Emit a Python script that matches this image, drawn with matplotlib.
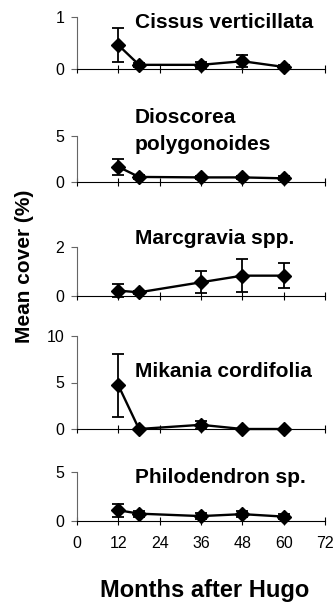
import matplotlib
matplotlib.use('Agg')
import matplotlib.pyplot as plt

plt.rcParams['font.family'] = ['Liberation Sans', 'DejaVu Sans']

# Months after hurricane Hugo
months = [12, 18, 36, 48, 60]

species = ['Cissus verticillata', 'Dioscorea\npolygonoides', 'Marcgravia spp.',
           'Mikania cordifolia', 'Philodendron sp.']

cissus_mean = [0.46, 0.08, 0.08, 0.15, 0.04]
cissus_err = [0.33, 0.04, 0.06, 0.11, 0.03]

dioscorea_mean = [1.65, 0.55, 0.5, 0.5, 0.4]
dioscorea_err = [0.9, 0.25, 0.15, 0.2, 0.2]

marcgravia_mean = [0.22, 0.15, 0.56, 0.83, 0.83]
marcgravia_err = [0.25, 0.06, 0.45, 0.68, 0.52]

mikania_mean = [4.7, 0.0, 0.45, 0.0, 0.0]
mikania_err = [3.4, 0.0, 0.45, 0.0, 0.0]

philodendron_mean = [1.1, 0.75, 0.5, 0.7, 0.45]
philodendron_err = [0.65, 0.3, 0.3, 0.3, 0.25]

means = [cissus_mean, dioscorea_mean, marcgravia_mean, mikania_mean, philodendron_mean]
errs = [cissus_err, dioscorea_err, marcgravia_err, mikania_err, philodendron_err]
ymax = [1, 5, 2, 10, 5]
yticks = [[0, 1], [0, 5], [0, 2], [0, 5, 10], [0, 5]]

# panel placement in pixels (top, bottom) of the 335x604 figure
W, H = 335, 604
panels = [(17, 69), (136, 182), (247, 296), (336, 429), (472, 521)]
title_base = [28, 123, 244, 377, 483]   # baseline of first title line
x0, x1 = 77, 325

fig = plt.figure(figsize=(W / 100, H / 100), dpi=100)

for i in range(5):
    top, bot = panels[i]
    ax = fig.add_axes([x0 / W, 1 - bot / H, (x1 - x0) / W, (bot - top) / H])
    ax.errorbar(months, means[i], yerr=errs[i], color='black', marker='D',
                markersize=7.5, linewidth=1.7, capsize=4, capthick=1.3,
                elinewidth=1.3, clip_on=False, zorder=3)
    ax.set_xlim(0, 72)
    ax.set_ylim(0, ymax[i])
    ax.set_yticks(yticks[i])
    ax.set_xticks([0, 12, 24, 36, 48, 60, 72])
    ax.patch.set_visible(False)
    for s in ['top', 'right']:
        ax.spines[s].set_visible(False)
    ax.spines['left'].set_color('#666666')
    ax.spines['left'].set_linewidth(0.8)
    ax.spines['bottom'].set_linewidth(0.8)
    ax.tick_params(axis='y', direction='out', length=4, width=0.8,
                   color='#666666', labelsize=11.5, pad=5)
    ax.tick_params(axis='x', direction='inout', length=6, width=0.8,
                   labelsize=11.5, pad=8)
    if i < 4:
        ax.tick_params(axis='x', labelbottom=False)
    # species name, one text per line
    for k, line in enumerate(species[i].split('\n')):
        fig.text(135 / W, 1 - (title_base[i] + 27 * k) / H, line, ha='left',
                 va='baseline', fontsize=15, fontweight='bold')

fig.text(25 / W, 1 - 266 / H, 'Mean cover (%)', rotation=90, ha='center',
         va='center', fontsize=15, fontweight='bold')
fig.text(205 / W, 1 - 597 / H, 'Months after Hugo', ha='center', va='baseline',
         fontsize=17, fontweight='bold')

fig.savefig('out.png', dpi=100)
